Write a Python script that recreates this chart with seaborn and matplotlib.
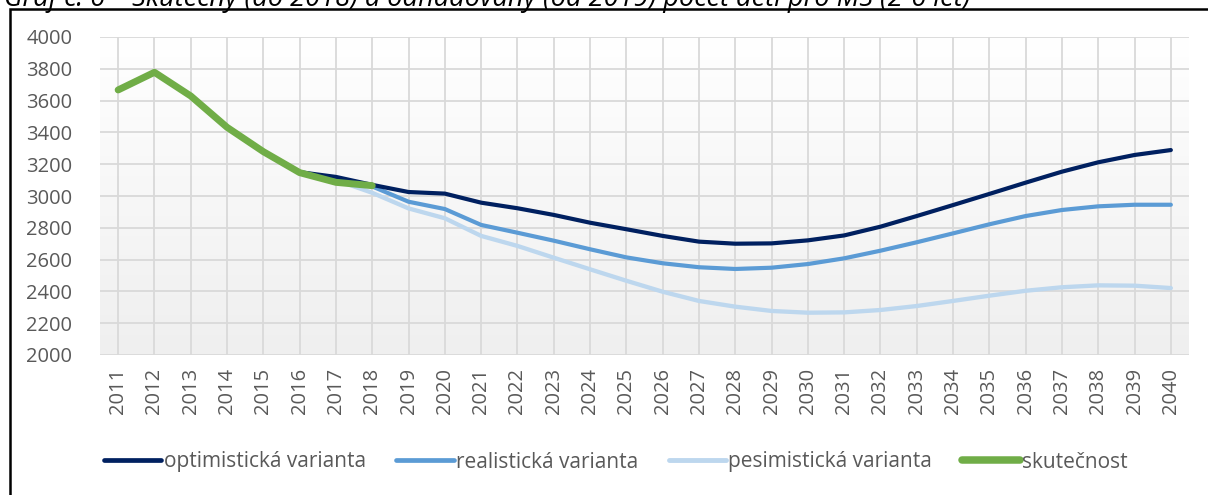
import numpy as np
import pandas as pd
import matplotlib
matplotlib.use("Agg")
import matplotlib.pyplot as plt
import seaborn as sns
from matplotlib.patches import Rectangle
from matplotlib.colors import LinearSegmentedColormap

years = list(range(2011, 2041))
year_labels = [str(y) for y in years]

optimisticka = [None, None, None, None, None, 3150, 3120, 3070, 3025, 3015,
                2958, 2923, 2881, 2832, 2791, 2749, 2713, 2700, 2702, 2721,
                2752, 2807, 2874, 2943, 3013, 3084, 3153, 3212, 3258, 3289]
realisticka = [None, None, None, None, None, 3150, 3110, 3060, 2964, 2918,
               2818, 2769, 2719, 2665, 2614, 2577, 2552, 2541, 2549, 2572,
               2608, 2656, 2709, 2765, 2822, 2874, 2912, 2935, 2945, 2945]
pesimisticka = [None, None, None, None, None, 3150, 3100, 3020, 2922, 2860,
                2749, 2686, 2612, 2539, 2467, 2398, 2340, 2304, 2277, 2266,
                2268, 2283, 2308, 2340, 2373, 2404, 2426, 2438, 2436, 2421]
skutecnost = [3667, 3778, 3629, 3432, 3279, 3147, 3086, 3065] + [None] * 22

series_names = ["optimistická varianta", "realistická varianta",
                "pesimistická varianta", "skutečnost"]
series_values = [optimisticka, realisticka, pesimisticka, skutecnost]
colors = ["#002060", "#5B9BD5", "#BDD7EE", "#70AD47"]
widths = [3.0, 3.0, 3.1, 5.0]

title_text = "Graf č. 6 – Skutečný (do 2018) a odhadovaný (od 2019) počet dětí pro MŠ (2-6 let)"

sns.set_theme(style="white")
plt.rcParams["font.family"] = ["Open Sans", "DejaVu Sans"]

W, H = 1208, 495
fig = plt.figure(figsize=(W / 100, H / 100), dpi=100)
ax = fig.add_axes([100 / W, 1 - 355 / H, (1189 - 100) / W, (355 - 37) / H])

rows = []
for name, vals in zip(series_names, series_values):
    for i, v in enumerate(vals):
        if v is not None:
            rows.append({"rok": i, "pocet": v, "serie": name})
df = pd.DataFrame(rows)

# gradient background: white at top, light gray at bottom
grad = np.linspace(0, 1, 256).reshape(-1, 1)
cmap = LinearSegmentedColormap.from_list("bg", ["#ffffff", "#efefef"])
ax.imshow(grad, extent=[-0.5, 29.5, 2000, 4000], aspect="auto", cmap=cmap,
          zorder=0, origin="upper")

for name, c, lw, z in zip(series_names, colors, widths, [4, 3, 2, 5]):
    sns.lineplot(data=df[df["serie"] == name], x="rok", y="pocet", ax=ax,
                 color=c, linewidth=lw, zorder=z,
                 solid_capstyle="round", legend=False)

ax.set_xlim(-0.5, 29.5)
ax.set_ylim(2000, 4000)
ax.set_yticks(range(2000, 4001, 200))
ax.set_xticks(range(len(years)))
ax.set_xticklabels(year_labels, rotation=90)
ax.set_xlabel("")
ax.set_ylabel("")
ax.grid(True, color="#d9d9d9", linewidth=1.3, zorder=1)
ax.set_axisbelow(True)
for s in ax.spines.values():
    s.set_visible(False)
ax.tick_params(axis="both", length=0, labelsize=14.5, labelcolor="#595959")
ax.tick_params(axis="y", pad=20)
ax.tick_params(axis="x", pad=9)

handles = [plt.Line2D([], [], color=c, linewidth=lw + 0.4, solid_capstyle="round")
           for c, lw in zip(colors, widths)]
fig.legend(handles, series_names, loc="center", bbox_to_anchor=(616 / W, 1 - 462 / H),
           ncol=4, frameon=False, fontsize=15, labelcolor="#595959",
           handlelength=2.75, handletextpad=0.12, columnspacing=1.45)

# outer frame (partially off canvas)
fig.patches.append(Rectangle((10 / W, -0.1), 1.2, 1 - 9 / H + 0.1,
                             transform=fig.transFigure, fill=False,
                             edgecolor="black", linewidth=1.8, zorder=10))
fig.text(4 / W, 1 - 6 / H, title_text, fontsize=19.5, style="italic",
         color="black", va="baseline", ha="left")

fig.savefig("out.png", dpi=100)
